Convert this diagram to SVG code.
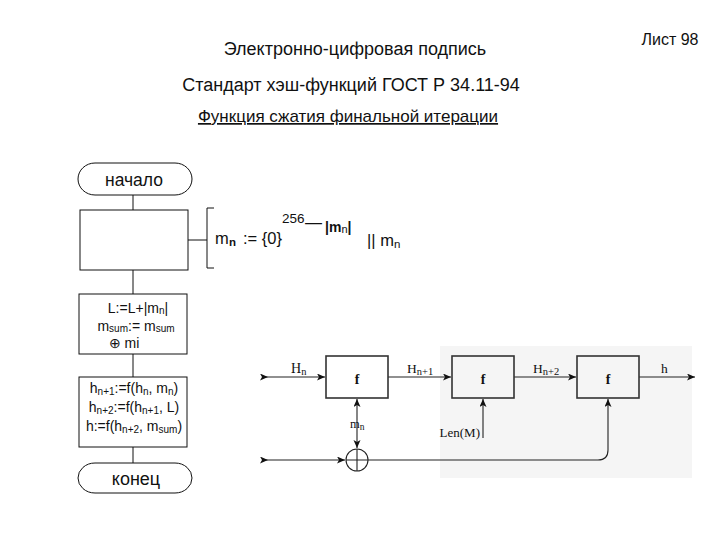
<svg xmlns="http://www.w3.org/2000/svg" width="720" height="540" viewBox="0 0 720 540">
<defs>
<style>
.s{font-family:"Liberation Sans",Arial,sans-serif;fill:#111}
.r{font-family:"Liberation Serif","Times New Roman",serif;fill:#111}
.box{fill:#fff;stroke:#111;stroke-width:1}
.fbox{fill:none;stroke:#333;stroke-width:1.6}
.ln{fill:none;stroke:#111;stroke-width:1}
.rl{fill:none;stroke:#222;stroke-width:1.1}
</style>
<marker id="ar" markerWidth="10" markerHeight="8" refX="8" refY="3.5" orient="auto-start-reverse" markerUnits="userSpaceOnUse">
<path d="M0,0 L8,3.5 L0,7 L2,3.5 Z" fill="#111"/>
</marker>
<marker id="tail" markerWidth="10" markerHeight="8" refX="6" refY="3.5" orient="auto" markerUnits="userSpaceOnUse">
<path d="M0,0 L8,3.5 L0,7 L2,3.5 Z" fill="#111"/>
</marker>
</defs>
<rect width="720" height="540" fill="#fff"/>

<g id="header">
<text class="s" x="355" y="55" font-size="18" text-anchor="middle">Электронно-цифровая подпись</text>
<text class="s" x="351" y="91" font-size="18" text-anchor="middle">Стандарт хэш-функций ГОСТ Р 34.11-94</text>
<text class="s" x="348" y="122" font-size="17" text-anchor="middle" text-decoration="underline">Функция сжатия финальной итерации</text>
<text class="s" x="670" y="45" font-size="16" text-anchor="middle">Лист 98</text>
</g>

<g id="flow-connectors">
<path class="ln" d="M133,195 V210 M133,270 V294 M133,354 V377 M133,447 V463"/>
<path class="ln" d="M188,240 H207 M214,208 H207 V268 H214"/>
</g>

<g id="start">
<rect class="box" x="78" y="163" width="114" height="32" rx="17" ry="16"/>
<text class="s" x="134" y="186" font-size="17.5" text-anchor="middle">начало</text>
</g>

<g id="init">
<rect class="box" x="80" y="210" width="108" height="60"/>
</g>

<g id="init-note">
<text class="s" x="215" y="244" font-size="16.5">m</text>
<text class="s" x="229" y="246" font-size="11.5" font-weight="bold">n</text>
<text class="s" x="243" y="244" font-size="16.5">:= {0}</text>
<text class="s" x="282" y="223" font-size="13.5">256</text>
<text class="s" x="305" y="228" font-size="17">—</text>
<text class="s" x="325" y="232" font-size="14" font-weight="bold">|m<tspan font-size="11" font-weight="normal" dy="1">n</tspan><tspan dy="-1">|</tspan></text>
<text class="s" x="367" y="246" font-size="16.5">|| m</text>
<text class="s" x="394" y="248" font-size="11.5">n</text>
</g>

<g id="step-sum">
<rect class="box" x="79" y="294" width="108" height="60"/>
<text class="s" x="138" y="313" font-size="14" text-anchor="middle">L:=L+|m<tspan font-size="10" dy="1">n</tspan><tspan dy="-1">|</tspan></text>
<text class="s" x="136" y="331" font-size="14" text-anchor="middle">m<tspan font-size="10" dy="1">sum</tspan><tspan dy="-1">:= m</tspan><tspan font-size="10" dy="1">sum</tspan></text>
<text class="s" x="124" y="348" font-size="14" text-anchor="middle">⊕ mi</text>
</g>

<g id="step-hash">
<rect class="box" x="79" y="377" width="108" height="70"/>
<text class="s" x="134" y="393" font-size="14" text-anchor="middle">h<tspan font-size="10" dy="1.5">n+1</tspan><tspan dy="-1.5">:=f(h</tspan><tspan font-size="10" dy="1.5">n</tspan><tspan dy="-1.5">, m</tspan><tspan font-size="10" dy="1.5">n</tspan><tspan dy="-1.5">)</tspan></text>
<text class="s" x="134" y="412" font-size="14" text-anchor="middle">h<tspan font-size="10" dy="1.5">n+2</tspan><tspan dy="-1.5">:=f(h</tspan><tspan font-size="10" dy="1.5">n+1</tspan><tspan dy="-1.5">, L)</tspan></text>
<text class="s" x="134" y="431" font-size="14" text-anchor="middle">h:=f(h<tspan font-size="10" dy="1.5">n+2</tspan><tspan dy="-1.5">, m</tspan><tspan font-size="10" dy="1.5">sum</tspan><tspan dy="-1.5">)</tspan></text>
</g>

<g id="end">
<rect class="box" x="78" y="463" width="114" height="30" rx="17" ry="15"/>
<text class="s" x="136" y="485" font-size="18" text-anchor="middle">конец</text>
</g>

<rect id="scheme-bg" x="440" y="346" width="252" height="132" fill="#f5f5f5"/>

<g id="scheme-connectors">
<path class="rl" d="M266,377 H325" marker-start="url(#tail)" marker-end="url(#ar)"/>
<path class="rl" d="M388,377 H451" marker-end="url(#ar)"/>
<path class="rl" d="M514,377 H576" marker-end="url(#ar)"/>
<path class="rl" d="M639,377 H695" marker-end="url(#ar)"/>
<path class="rl" d="M357,448 V399" marker-start="url(#ar)" marker-end="url(#ar)"/>
<path class="rl" d="M266,460 H345" marker-start="url(#tail)" marker-end="url(#ar)"/>
<path class="rl" d="M368,460 H598 Q608,460 608,450 V399" marker-end="url(#ar)"/>
<path class="rl" d="M483,438 V399" marker-end="url(#ar)"/>
</g>

<g id="f1">
<rect class="fbox" x="326" y="356" width="62" height="42"/>
<text class="r" x="357" y="384" font-size="14" font-weight="bold" text-anchor="middle">f</text>
</g>
<g id="f2">
<rect class="fbox" x="452" y="356" width="62" height="42"/>
<text class="r" x="483" y="384" font-size="14" font-weight="bold" text-anchor="middle">f</text>
</g>
<g id="f3">
<rect class="fbox" x="577" y="356" width="62" height="42"/>
<text class="r" x="608" y="384" font-size="14" font-weight="bold" text-anchor="middle">f</text>
</g>
<g id="xor">
<circle cx="357" cy="460" r="11" fill="none" stroke="#222" stroke-width="1.1"/>
<path class="rl" d="M346,460 H368 M357,449 V471"/>
</g>

<g id="scheme-labels">
<text class="r" x="291" y="373" font-size="14">H<tspan font-size="10.5" dy="2">n</tspan></text>
<text class="r" x="407" y="373" font-size="13.5">H<tspan font-size="10.5" dy="2">n+1</tspan></text>
<text class="r" x="533" y="373" font-size="13.5">H<tspan font-size="10.5" dy="2">n+2</tspan></text>
<text class="r" x="661" y="373" font-size="13.5">h</text>
<text class="r" x="350" y="428" font-size="12.5">m<tspan font-size="9.5" dy="2">n</tspan></text>
<text class="r" x="480" y="437" font-size="13" text-anchor="end">Len(M)</text>
</g>
</svg>
